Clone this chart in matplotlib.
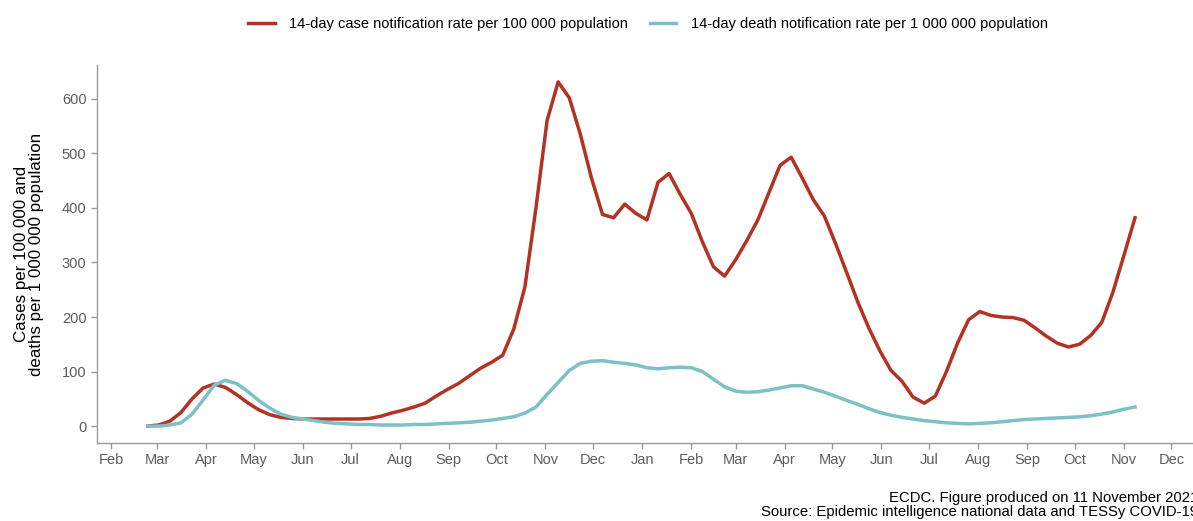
import matplotlib
matplotlib.use("Agg")
import matplotlib.pyplot as plt
import matplotlib.dates as mdates
import pandas as pd

plt.rcParams['font.family'] = ['Liberation Sans', 'DejaVu Sans']

# weekly 14-day notification rates, from the week of 24 Feb 2020
weeks = pd.date_range("2020-02-24", periods=90, freq="7D")

case_rate = [
    0, 2, 9, 25, 50, 70, 77, 71, 58, 43, 30, 21, 16, 14, 13, 13, 13, 13, 13, 13, 14, 18, 24,
    29, 35, 42, 55, 67, 78, 92, 106, 117, 130, 178, 255, 400, 560, 631, 602, 535, 455, 388, 382,
    407, 390, 378, 447, 463, 425, 390, 338, 292, 275, 305, 340, 378, 428, 478, 493, 455, 415,
    385, 335, 282, 228, 180, 138, 102, 82, 53, 42, 55, 100, 152, 195, 210, 203, 200, 199, 194,
    180, 165, 152, 145, 150, 166, 190, 245, 313, 382,
]
death_rate = [
    0, 0, 2, 6, 22, 48, 75, 84, 78, 64, 47, 33, 22, 16, 13, 10, 7, 5, 4, 3, 3, 2, 2,
    2, 3, 3, 4, 5, 6, 7, 9, 11, 14, 17, 24, 35, 58, 80, 102, 115, 119, 120, 117,
    115, 112, 107, 105, 107, 108, 107, 100, 86, 72, 64, 62, 63, 66, 70, 74, 74, 68,
    62, 55, 47, 40, 32, 25, 20, 16, 13, 10, 8, 6, 5, 4, 5, 6, 8, 10, 12,
    13, 14, 15, 16, 17, 19, 22, 26, 31, 35,
]

case_label = "14-day case notification rate per 100 000 population"
death_label = "14-day death notification rate per 1 000 000 population"
y_title = "Cases per 100 000 and\ndeaths per 1 000 000 population"
caption = ("ECDC. Figure produced on 11 November 2021\n"
           "Source: Epidemic intelligence national data and TESSy COVID-19")

red = "#B33222"
teal = "#7CC0C8"
grey = "#9A9A9A"

fig = plt.figure(figsize=(11.93, 5.21), dpi=100)
# the plotting area runs a little past the right edge of the canvas
ax = fig.add_axes([0.0813, 0.1497, 0.9405, 0.7255])

ax.plot(weeks, case_rate, color=red, lw=2.5, label=case_label, solid_joinstyle="round")
ax.plot(weeks, death_rate, color=teal, lw=2.5, label=death_label, solid_joinstyle="round")

ax.set_xlim(pd.Timestamp("2020-01-23"), pd.Timestamp("2021-12-31"))
ax.set_ylim(-31, 662)
ax.set_yticks(range(0, 700, 100))
ax.xaxis.set_major_locator(mdates.MonthLocator())
ax.xaxis.set_major_formatter(mdates.DateFormatter("%b"))

for side in ("top", "right"):
    ax.spines[side].set_visible(False)
for side in ("left", "bottom"):
    ax.spines[side].set_color(grey)
    ax.spines[side].set_linewidth(1.0)
ax.tick_params(colors=grey, labelcolor="#5c5c5c", labelsize=10.5, length=4, width=1.0)
ax.set_ylabel(y_title, fontsize=12.2, linespacing=1.0, labelpad=13)

fig.legend(loc="center", bbox_to_anchor=(648 / 1193, 1 - 24 / 521), ncol=2, frameon=False,
           fontsize=10.5, handlelength=1.85, handletextpad=1.0, columnspacing=1.45)

fig.text(1.004, 0.004, caption, ha="right", va="bottom", fontsize=10.7, linespacing=0.95)

fig.savefig("out.png", dpi=100)
